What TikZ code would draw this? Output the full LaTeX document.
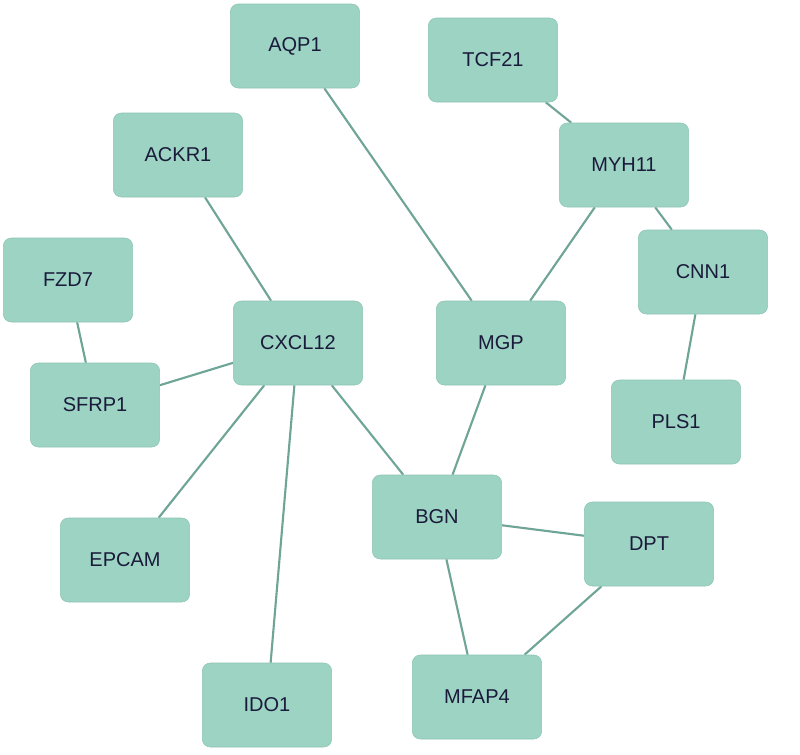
\documentclass[tikz,border=0pt]{standalone}
\usepackage{fontspec}
\setmainfont{Liberation Sans}
\usetikzlibrary{backgrounds}
\definecolor{boxfill}{HTML}{9CD3C3}
\definecolor{boxline}{HTML}{8CC4B4}
\definecolor{edgec}{HTML}{6FA596}
\definecolor{txt}{HTML}{1A1A3A}
\begin{document}
\begin{tikzpicture}[x=0.75pt,y=-0.75pt,
  gene/.style={draw=boxline,fill=boxfill,rounded corners=6pt,minimum width=97pt,minimum height=63pt,inner sep=0pt,font=\fontsize{15}{18}\selectfont,text=txt},
  link/.style={draw=edgec,line width=1.6pt}]
\useasboundingbox (0,0) rectangle (800,754);
\node[gene] (AQP1) at (295,46) {AQP1};
\node[gene] (TCF21) at (493,60) {TCF21};
\node[gene] (ACKR1) at (178,155) {ACKR1};
\node[gene] (MYH11) at (624,165) {MYH11};
\node[gene] (FZD7) at (68,280) {FZD7};
\node[gene] (CNN1) at (703,272) {CNN1};
\node[gene] (CXCL12) at (298,343) {CXCL12};
\node[gene] (MGP) at (501,343) {MGP};
\node[gene] (SFRP1) at (95,405) {SFRP1};
\node[gene] (PLS1) at (676,422) {PLS1};
\node[gene] (BGN) at (437,517) {BGN};
\node[gene] (DPT) at (649,544) {DPT};
\node[gene] (EPCAM) at (125,560) {EPCAM};
\node[gene] (IDO1) at (267,705) {IDO1};
\node[gene] (MFAP4) at (477,697) {MFAP4};
\begin{scope}[on background layer]
\draw[link] (AQP1) -- (MGP);
\draw[link] (TCF21) -- (MYH11);
\draw[link] (MYH11) -- (MGP);
\draw[link] (MYH11) -- (CNN1);
\draw[link] (CNN1) -- (PLS1);
\draw[link] (ACKR1) -- (CXCL12);
\draw[link] (FZD7) -- (SFRP1);
\draw[link] (CXCL12) -- (SFRP1);
\draw[link] (CXCL12) -- (EPCAM);
\draw[link] (CXCL12) -- (IDO1);
\draw[link] (CXCL12) -- (BGN);
\draw[link] (MGP) -- (BGN);
\draw[link] (BGN) -- (DPT);
\draw[link] (BGN) -- (MFAP4);
\draw[link] (DPT) -- (MFAP4);
\end{scope}
\end{tikzpicture}
\end{document}
